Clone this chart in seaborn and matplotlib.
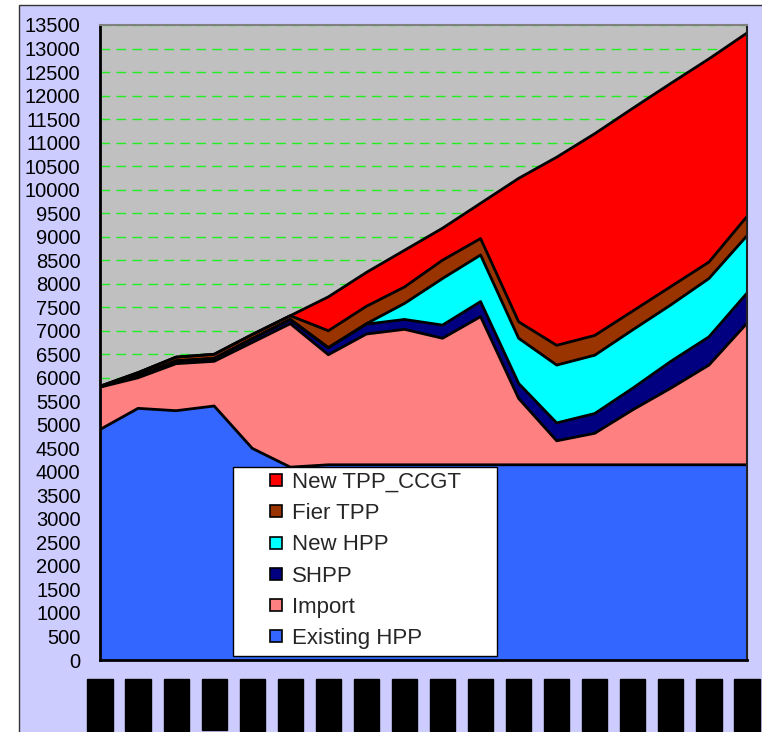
import numpy as np
import pandas as pd
import matplotlib
matplotlib.use("Agg")
import matplotlib.pyplot as plt
import matplotlib.transforms as mtransforms
from matplotlib.lines import Line2D
from matplotlib.patches import Rectangle
import seaborn as sns

# ---- data (MW) ----
years = [str(y) for y in range(2008, 2026)]
existing_hpp = [4900, 5350, 5300, 5400, 4500, 4100, 4150, 4150, 4150,
                4150, 4150, 4150, 4150, 4150, 4150, 4150, 4150, 4150]
import_mw = [900, 650, 1000, 950, 2250, 3050, 2340, 2780, 2880,
             2690, 3150, 1410, 510, 670, 1170, 1630, 2120, 3010]
shpp = [10, 50, 60, 60, 80, 90, 150, 210, 210,
        280, 320, 320, 380, 420, 460, 570, 600, 640]
new_hpp = [0, 0, 0, 0, 0, 0, 0, 10, 340,
           990, 990, 960, 1230, 1240, 1240, 1200, 1240, 1220]
fier_tpp = [10, 60, 80, 90, 90, 80, 360, 370, 350,
            390, 350, 350, 420, 420, 400, 390, 350, 410]
new_tpp_ccgt = [0, 0, 0, 0, 0, 0, 720, 720, 780,
                680, 750, 3050, 4000, 4290, 4310, 4320, 4320, 3900]

series_names = ["Existing HPP", "Import", "SHPP", "New HPP", "Fier TPP", "New TPP_CCGT"]
series_values = [existing_hpp, import_mw, shpp, new_hpp, fier_tpp, new_tpp_ccgt]
series_colors = ["#3366FF", "#FF8080", "#000080", "#00FFFF", "#993300", "#FF0000"]

df = pd.DataFrame({"x": np.arange(len(years))})
for name, vals in zip(series_names, series_values):
    df[name] = vals

# cumulative boundaries for the outline of each band
cum = df[series_names].cumsum(axis=1)
bounds = cum.assign(x=df["x"]).melt(id_vars="x", var_name="layer", value_name="value")

sns.set_style("white")
plt.rcParams["font.family"] = ["Liberation Sans", "DejaVu Sans"]

W, H = 762, 732
fig = plt.figure(figsize=(W / 100, H / 100), dpi=100, facecolor="white")
fig.patches.append(Rectangle((19 / W, -0.01), 1.0, 1.01 - 5 / H, transform=fig.transFigure,
                             facecolor="#CCCCFF", edgecolor="#333333", lw=1.0, zorder=-10))

ax_l, ax_r, ax_t, ax_b = 100, 747, 25, 660
ax = fig.add_axes([ax_l / W, (H - ax_b) / H, (ax_r - ax_l) / W, (ax_b - ax_t) / H])
ax.set_facecolor("#C0C0C0")

ax.stackplot(df["x"], *[df[n] for n in series_names], colors=series_colors,
             linewidth=0, zorder=2)
sns.lineplot(data=bounds, x="x", y="value", units="layer", estimator=None,
             color="black", lw=2.0, ax=ax, zorder=3, legend=False)

ax.set_xlim(0, len(years) - 1)
ax.set_ylim(0, 13500)
ax.set_yticks(np.arange(0, 13501, 500))
ax.set_xticks(df["x"])
ax.set_xticklabels([])
ax.set_xlabel("")
ax.set_ylabel("")

ax.set_axisbelow(True)
ax.yaxis.grid(True, color="#22EE22", lw=1.0, linestyle=(0, (7, 4.5)))
ax.xaxis.grid(False)

for side in ("left", "bottom"):
    ax.spines[side].set_color("black")
    ax.spines[side].set_linewidth(2.0)
ax.spines["top"].set_color("#808080")
ax.spines["top"].set_linewidth(1.5)
ax.spines["right"].set_color("#222222")
ax.spines["right"].set_linewidth(1.5)
for s in ax.spines.values():
    s.set_zorder(4)

ax.tick_params(axis="y", direction="out", length=5, width=1.2, color="#404040",
               labelsize=14.5, pad=9, labelcolor="black")
ax.tick_params(axis="x", direction="out", length=5, width=1.2, color="#404040",
               labelbottom=False)

# rotated category labels
trans = mtransforms.blended_transform_factory(ax.transData, ax.transAxes)
axh = ax_b - ax_t
for i, lab in enumerate(years):
    ax.text(i, -23.5 / axh, lab, transform=trans, rotation=90, ha="center", va="top",
            fontsize=14, color="black",
            bbox=dict(facecolor="black", edgecolor="black", pad=3),
            clip_on=False)

# legend box
axw = ax_r - ax_l
ax.add_patch(Rectangle(((233 - ax_l) / axw, (ax_b - 656) / axh), 264 / axw, 189 / axh,
                       transform=ax.transAxes, facecolor="white", edgecolor="black",
                       lw=1.0, zorder=5))
handles = [Line2D([], [], marker="s", ls="none", markersize=8, markerfacecolor=c,
                  markeredgecolor="black", markeredgewidth=1.2)
           for c in series_colors][::-1]
leg = ax.legend(handles, series_names[::-1], loc="upper left",
                bbox_to_anchor=((269 - ax_l) / axw, (ax_b - 472) / axh),
                frameon=False, fontsize=16, handlelength=0.65, handletextpad=0.38,
                labelspacing=0.46, borderpad=0, borderaxespad=0)
leg.set_zorder(6)

fig.savefig("out.png", dpi=100, facecolor=fig.get_facecolor())
